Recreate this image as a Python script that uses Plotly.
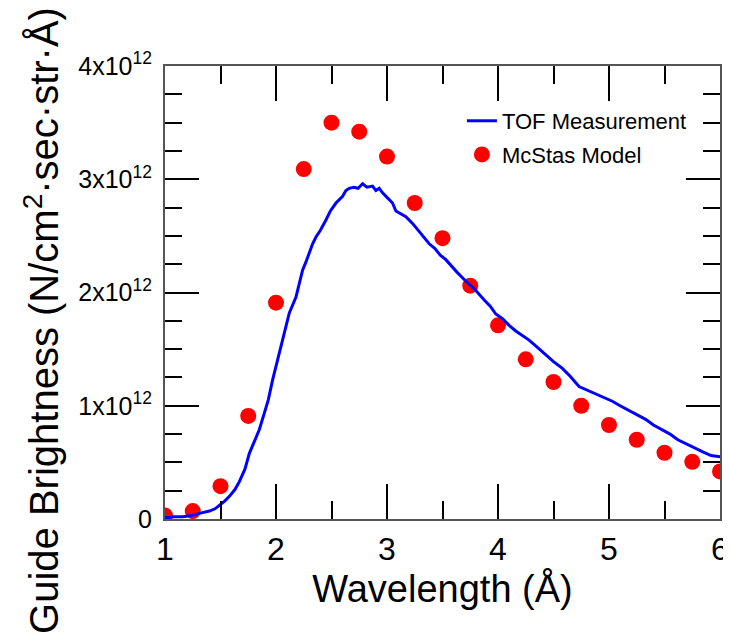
import plotly.graph_objects as go

# McStas model (red dots)
mc_x = [1.0, 1.25, 1.5, 1.75, 2.0, 2.25, 2.5, 2.75, 3.0, 3.25, 3.5, 3.75, 4.0,
        4.25, 4.5, 4.75, 5.0, 5.25, 5.5, 5.75, 6.0]
mc_y = [0.03, 0.07, 0.29, 0.91, 1.91, 3.09, 3.50, 3.42, 3.20, 2.79, 2.48, 2.06, 1.71,
        1.41, 1.21, 1.00, 0.83, 0.70, 0.585, 0.505, 0.42]

# TOF measurement (blue line)
tof_x = [1.00, 1.08, 1.16, 1.24, 1.31, 1.40, 1.45, 1.49, 1.54, 1.58, 1.63, 1.67, 1.72,
         1.76, 1.80, 1.85, 1.89, 1.93, 1.97, 2.02, 2.07, 2.12, 2.18, 2.21, 2.24, 2.27,
         2.30, 2.33, 2.36, 2.40, 2.45, 2.49, 2.54, 2.57, 2.60, 2.63, 2.66, 2.70, 2.74,
         2.78, 2.82, 2.87, 2.90, 2.93, 2.96, 3.00, 3.05, 3.08, 3.12, 3.17, 3.23, 3.29,
         3.33, 3.38, 3.43, 3.48, 3.53, 3.58, 3.63, 3.68, 3.73, 3.78, 3.83, 3.88, 3.93,
         3.98, 4.04, 4.10, 4.16, 4.22, 4.28, 4.35, 4.43, 4.50, 4.58, 4.65, 4.73, 4.80,
         4.88, 4.95, 5.03, 5.10, 5.18, 5.25, 5.33, 5.40, 5.47, 5.55, 5.62, 5.70, 5.77,
         5.85, 5.92, 6.00]
tof_y = [0.01, 0.02, 0.02, 0.03, 0.05, 0.07, 0.09, 0.12, 0.16, 0.20, 0.26, 0.33, 0.44,
         0.58, 0.68, 0.79, 0.92, 1.05, 1.23, 1.42, 1.63, 1.82, 1.96, 2.08, 2.20, 2.27,
         2.35, 2.43, 2.49, 2.55, 2.64, 2.72, 2.79, 2.82, 2.85, 2.90, 2.92, 2.93, 2.92,
         2.96, 2.93, 2.94, 2.90, 2.92, 2.88, 2.84, 2.79, 2.72, 2.70, 2.67, 2.61, 2.54,
         2.49, 2.43, 2.39, 2.33, 2.29, 2.23, 2.18, 2.13, 2.08, 2.04, 1.98, 1.93, 1.88,
         1.81, 1.77, 1.71, 1.66, 1.62, 1.58, 1.52, 1.45, 1.39, 1.33, 1.26, 1.17, 1.14,
         1.10, 1.07, 1.04, 1.00, 0.96, 0.92, 0.88, 0.83, 0.79, 0.75, 0.70, 0.66, 0.63,
         0.59, 0.56, 0.55]

scale = 1e12
x_ticks = [1, 2, 3, 4, 5, 6]
y_tickvals = [0, 1, 2, 3, 4]
y_ticktext = ["0", "1x10<sup>12</sup>", "2x10<sup>12</sup>", "3x10<sup>12</sup>", "4x10<sup>12</sup>"]
x_title = "Wavelength (Å)"
y_title = "Guide Brightness (N/cm<sup>2</sup>·sec·str·Å)"

FONT = "Liberation Sans, Arial, sans-serif"

fig = go.Figure()
fig.add_trace(go.Scatter(
    x=mc_x, y=[v * scale for v in mc_y], mode="markers", name="McStas Model",
    marker=dict(color="#ff0000", size=16, line=dict(width=0)),
    legendrank=2, legendgroup="b"))
fig.add_trace(go.Scatter(
    x=tof_x, y=[v * scale for v in tof_y], mode="lines", name="TOF Measurement",
    line=dict(color="#0000ff", width=3),
    legendrank=1, legendgroup="a"))

fig.update_layout(
    width=723, height=630,
    margin=dict(l=157, r=11, t=58, b=119, autoexpand=False),
    paper_bgcolor="white", plot_bgcolor="white",
    font=dict(family=FONT, color="black"),
    showlegend=True,
    legend=dict(x=0.535, y=0.925, xanchor="left", yanchor="top",
                bgcolor="rgba(0,0,0,0)", font=dict(size=22, family=FONT),
                tracegroupgap=2, traceorder="grouped"),
    annotations=[dict(text=y_title, xref="paper", yref="paper",
                      x=-0.222, y=0.439, xanchor="center", yanchor="middle",
                      textangle=-90, showarrow=False, font=dict(size=40, family=FONT))],
)
fig.update_xaxes(
    automargin=False,
    range=[1, 6], tickvals=x_ticks, ticktext=[str(v) for v in x_ticks],
    ticks="inside", ticklen=35, tickwidth=1.5, tickcolor="black",
    minor=dict(dtick=0.5, tick0=1, ticks="inside", ticklen=18, tickwidth=1.5, tickcolor="black"),
    showline=True, linecolor="#555555", linewidth=2, mirror="ticks",
    showgrid=False, zeroline=False,
    tickfont=dict(size=32), ticklabelstandoff=1,
    title=dict(text=x_title, font=dict(size=38), standoff=2),
)
fig.update_yaxes(
    automargin=False,
    range=[0, 4 * scale], tickvals=[v * scale for v in y_tickvals], ticktext=y_ticktext,
    ticks="inside", ticklen=34, tickwidth=1.5, tickcolor="black",
    minor=dict(dtick=0.25 * scale, tick0=0, ticks="inside", ticklen=17, tickwidth=1.5, tickcolor="black"),
    showline=True, linecolor="#555555", linewidth=2, mirror="ticks",
    showgrid=False, zeroline=False,
    tickfont=dict(size=25), ticklabelstandoff=6,
)

fig.write_html("out.html")
